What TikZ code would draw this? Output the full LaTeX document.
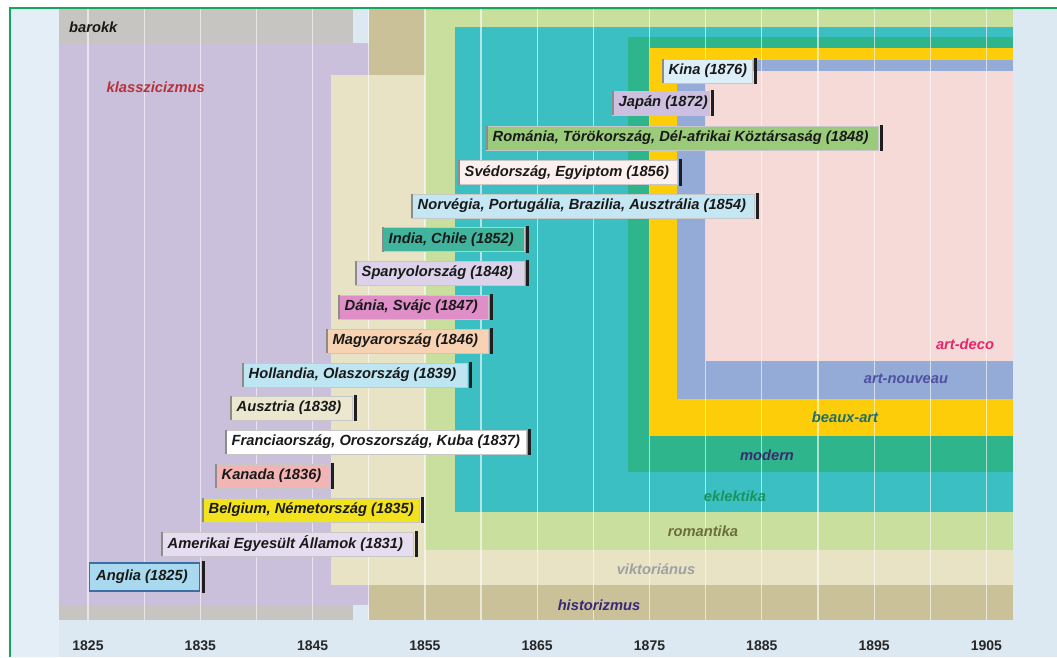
\documentclass[tikz,border=0pt]{standalone}
\usepackage{fontspec}
\setmainfont{Liberation Sans}
\definecolor{bgblue}{HTML}{DCE8F2}
\definecolor{bgleft}{HTML}{E4EEF6}
\definecolor{frame}{HTML}{14A65A}
\definecolor{cbarokk}{HTML}{C6C5C1}
\definecolor{cklassz}{HTML}{CBC0DC}
\definecolor{chist}{HTML}{CAC199}
\definecolor{cvikt}{HTML}{E8E3C5}
\definecolor{croman}{HTML}{C8DF9D}
\definecolor{cekl}{HTML}{3CBFC3}
\definecolor{cmodern}{HTML}{2FB58B}
\definecolor{cbeaux}{HTML}{FDCD0A}
\definecolor{cnouv}{HTML}{93ABD6}
\definecolor{cdeco}{HTML}{F6DAD7}
\definecolor{tklassz}{HTML}{B8323A}
\definecolor{tdeco}{HTML}{E8246A}
\definecolor{tnouv}{HTML}{5050A0}
\definecolor{tbeaux}{HTML}{1B6E72}
\definecolor{tmodern}{HTML}{3D2A6E}
\definecolor{tekl}{HTML}{17955A}
\definecolor{troman}{HTML}{6D6D3A}
\definecolor{tvikt}{HTML}{A0A0A0}
\definecolor{thist}{HTML}{38287A}
\definecolor{fkina}{HTML}{DCEFF8}
\definecolor{fjapan}{HTML}{CDBFE0}
\definecolor{froman}{HTML}{9ACB7A}
\definecolor{fsved}{HTML}{FCF0EE}
\definecolor{fnorv}{HTML}{C5E6F3}
\definecolor{findia}{HTML}{40B49C}
\definecolor{fspany}{HTML}{DCD2EA}
\definecolor{fdania}{HTML}{E08EC8}
\definecolor{fmagy}{HTML}{F8D3B3}
\definecolor{fholl}{HTML}{BDE5F2}
\definecolor{fauszt}{HTML}{EBE8CF}
\definecolor{ffranc}{HTML}{FFFFFF}
\definecolor{fkanada}{HTML}{F2B4B4}
\definecolor{fbelg}{HTML}{F2E31E}
\definecolor{famer}{HTML}{E6DEF0}
\definecolor{fangl}{HTML}{A9D9EE}
\definecolor{bangl}{HTML}{3B6EA5}
\tikzset{
  bold14/.style={font=\fontsize{14.7}{17}\selectfont\bfseries\itshape},
  bandlbl/.style={bold14, inner sep=0pt},
  yearlbl/.style={font=\fontsize{14}{16}\selectfont\bfseries, text=black!85, inner sep=0pt},
  cbox/.style={rectangle, draw=black!22, line width=0.5pt, minimum height=24pt, inner sep=0pt},
  ctext/.style={bold14, text=black!90, inner sep=0pt, anchor=west},
  cleft/.style={draw=black!45, line width=1.6pt},
  cbar/.style={draw=black!88, line width=3.2pt},
  grid5/.style={draw=white, opacity=0.6, line width=1.2pt},
}
\newcommand\ctry[6]{%
  \pgfmathsetmacro\cbw{#3-4-(#2)}%
  \node[cbox, fill=#5, minimum width=\cbw pt, anchor=west] (#1) at (#2,#4) {};
  \node[ctext] (#1t) at ([xshift=6.5pt]#1.west) {#6};
  \draw[cleft] ([xshift=0.8pt]#1.north west) -- ([xshift=0.8pt]#1.south west);
  \draw[cbar] ([xshift=3pt,yshift=1pt]#1.north east) -- ([xshift=3pt,yshift=-1pt]#1.south east);
}
\begin{document}
\begin{tikzpicture}[x=1pt,y=-1pt]
\useasboundingbox (0,0) rectangle (1057,657);
\fill[white] (0,0) rectangle (1057,657);
\fill[bgblue] (10,8) rectangle (1057,657);
\fill[bgleft] (10,8) rectangle (59,657);
% bands
\fill[cbarokk] (59,8) rectangle (353,620);
\fill[cklassz] (59,43) rectangle (368.5,605);
\fill[chist] (369,8) rectangle (1013,620);
\fill[cvikt] (331,75) rectangle (1013,585);
\fill[croman] (425,10) rectangle (1013,550);
\fill[cekl] (455,27) rectangle (1013,512);
\fill[cmodern] (628,37) rectangle (1013,472);
\fill[cbeaux] (650,48) rectangle (1013,436);
\fill[cnouv] (677,60) rectangle (1013,399);
\fill[cdeco] (706,71) rectangle (1013,361);
% grid lines every 5 years
\foreach \yr in {1825,1830,...,1905} {
  \pgfmathsetmacro\gx{88+11.23*(\yr-1825)}
  \draw[grid5] (\gx,9) -- (\gx,620);
}
% year labels
\foreach \yr in {1825,1835,...,1905} {
  \pgfmathsetmacro\gx{88+11.23*(\yr-1825)}
  \node[yearlbl] (y\yr) at (\gx,646) {\yr};
}
% band labels
\node[bandlbl, text=black!90, anchor=west] (lbarokk) at (69,27) {barokk};
\node[bandlbl, text=tklassz, anchor=west] (lklassz) at (106.5,87) {klasszicizmus};
\node[bandlbl, text=tdeco] (ldeco) at (965,344) {art-deco};
\node[bandlbl, text=tnouv] (lnouv) at (906,379) {art-nouveau};
\node[bandlbl, text=tbeaux] (lbeaux) at (845,417) {beaux-art};
\node[bandlbl, text=tmodern] (lmodern) at (767,455) {modern};
\node[bandlbl, text=tekl] (lekl) at (735,496) {eklektika};
\node[bandlbl, text=troman] (lroman) at (703,531) {romantika};
\node[bandlbl, text=tvikt] (lvikt) at (656,569) {viktoriánus};
\node[bandlbl, text=thist] (lhist) at (599,605) {historizmus};
% country boxes: name, left, bar, cy, fill, text
\ctry{kina}{662}{756}{71}{fkina}{Kina (1876)}
\ctry{japan}{612}{713}{103}{fjapan}{Japán (1872)}
\ctry{romania}{486}{882}{138}{froman}{Románia, Törökország, Dél-afrikai Köztársaság (1848)}
\ctry{sved}{458}{681}{172.5}{fsved}{Svédország, Egyiptom (1856)}
\ctry{norv}{411}{758}{206}{fnorv}{Norvégia, Portugália, Brazilia, Ausztrália (1854)}
\ctry{india}{382}{528}{239.5}{findia}{India, Chile (1852)}
\ctry{spany}{355}{528}{273}{fspany}{Spanyolország (1848)}
\ctry{dania}{338}{492}{307}{fdania}{Dánia, Svájc (1847)}
\ctry{magy}{326}{492}{341}{fmagy}{Magyarország (1846)}
\ctry{holl}{242}{471}{375}{fholl}{Hollandia, Olaszország (1839)}
\ctry{auszt}{230}{356}{408}{fauszt}{Ausztria (1838)}
\ctry{franc}{225}{530}{442}{ffranc}{Franciaország, Oroszország, Kuba (1837)}
\ctry{kanada}{215}{333}{476}{fkanada}{Kanada (1836)}
\ctry{belg}{202}{423}{510}{fbelg}{Belgium, Németország (1835)}
\ctry{amer}{161}{417}{544}{famer}{Amerikai Egyesült Államok (1831)}
% Anglia with blue border
\node[cbox, fill=fangl, draw=bangl, line width=1.3pt, minimum width=110pt, minimum height=28pt, anchor=west] (angl) at (89,577) {};
\node[ctext] (anglt) at ([xshift=7pt]angl.west) {Anglia (1825)};
\draw[cbar] ([xshift=3.5pt,yshift=1pt]angl.north east) -- ([xshift=3.5pt,yshift=-1pt]angl.south east);
% frame lines
\draw[frame, line width=1.5pt] (10,657) -- (10,8) -- (1057,8);
\end{tikzpicture}
\end{document}
